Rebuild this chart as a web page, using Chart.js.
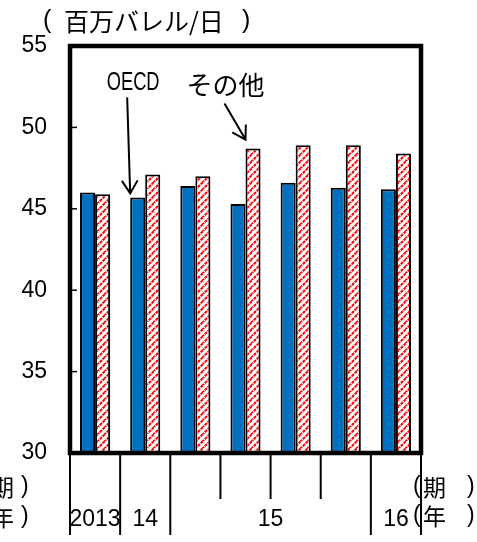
<!DOCTYPE html>
<html>
<head>
<meta charset="utf-8">
<script src="https://cdn.jsdelivr.net/npm/chart.js@4/dist/chart.umd.min.js"></script>
<style>
  html, body { margin: 0; padding: 0; background: #fff; }
</style>
</head>
<body>
<canvas id="myChart" width="477" height="542"></canvas>
<script>
// periods on the x axis (one bar pair each)
var periods = ['2013', '2014', '2015Q1', '2015Q2', '2015Q3', '2015Q4', '2016'];
// million barrels per day
var oecd = [46.0, 45.7, 46.4, 45.3, 46.6, 46.3, 46.2];
var others = [45.9, 47.1, 47.0, 48.7, 48.9, 48.9, 48.4];
// year row under the axis: label and first/last period index it spans
var years = ['2013', '14', '15', '16'];
var yearFrom = [0, 1, 2, 6];
var yearTo = [0, 1, 5, 6];

var JP = '"Noto Sans CJK JP", sans-serif';
var NUM = '"Liberation Sans", Arial, sans-serif';

function hatch() {
  var c = document.createElement('canvas');
  c.width = 7; c.height = 7;
  var g = c.getContext('2d');
  g.fillStyle = '#fff';
  g.fillRect(0, 0, 7, 7);
  g.strokeStyle = '#ff0000';
  g.lineWidth = 2;
  g.setLineDash([3, 1]);
  [-7, 0, 7].forEach(function (o) {
    g.beginPath();
    g.moveTo(-1 + o, 8);
    g.lineTo(8 + o, -1);
    g.stroke();
  });
  return g.createPattern(c, 'repeat');
}

function arrow(ctx, x0, y0, x1, y1) {
  var a = Math.atan2(y1 - y0, x1 - x0), h = 15, s = 0.55;
  ctx.beginPath();
  ctx.moveTo(x0, y0);
  ctx.lineTo(x1, y1);
  ctx.moveTo(x1 - h * Math.cos(a - s), y1 - h * Math.sin(a - s));
  ctx.lineTo(x1, y1);
  ctx.lineTo(x1 - h * Math.cos(a + s), y1 - h * Math.sin(a + s));
  ctx.stroke();
}

// "(word)" drawn in pieces so the brackets keep their wide spacing
function bracketed(ctx, word, xOpen, xWord, xClose, y, size) {
  ctx.textAlign = 'left';
  ctx.font = size + 'px ' + NUM;
  ctx.fillText('(', xOpen, y);
  ctx.fillText(')', xClose, y);
  ctx.font = size + 'px ' + JP;
  ctx.fillText(word, xWord, y);
}

var decor = {
  id: 'decor',
  afterDatasetsDraw: function (chart) {
    var ctx = chart.ctx, a = chart.chartArea;
    var x = chart.scales.x, y = chart.scales.y;
    ctx.save();
    ctx.strokeStyle = '#000';
    ctx.fillStyle = '#000';

    // inner y ticks
    ctx.lineWidth = 1.5;
    y.ticks.forEach(function (t) {
      if (t.value <= y.min || t.value >= y.max) return;
      var py = y.getPixelForValue(t.value);
      ctx.beginPath();
      ctx.moveTo(a.left, py);
      ctx.lineTo(a.left + 7, py);
      ctx.stroke();
    });

    // frame
    ctx.lineWidth = 4.5;
    ctx.strokeRect(a.left, a.top, a.right - a.left, a.bottom - a.top);

    // category boundaries below the frame
    var half = (x.getPixelForValue(1) - x.getPixelForValue(0)) / 2;
    ctx.lineWidth = 2;
    for (var i = 0; i <= periods.length; i++) {
      var bx = i < periods.length ? x.getPixelForValue(i) - half : x.getPixelForValue(i - 1) + half;
      var isYear = yearFrom.indexOf(i) >= 0 || i === periods.length;
      ctx.beginPath();
      ctx.moveTo(bx, a.bottom);
      ctx.lineTo(bx, isYear ? 535 : 499);
      ctx.stroke();
    }

    ctx.textBaseline = 'middle';
    ctx.textAlign = 'center';
    ctx.font = '23px ' + NUM;
    years.forEach(function (lbl, k) {
      var cx = (x.getPixelForValue(yearFrom[k]) + x.getPixelForValue(yearTo[k])) / 2;
      ctx.fillText(lbl, cx, 520);
    });

    bracketed(ctx, '期', 413, 423, 467, 487, 23);
    bracketed(ctx, '年', 413, 423, 467, 516, 23);
    bracketed(ctx, '期', -20, -9, 21, 487, 23);
    bracketed(ctx, '年', -20, -9, 21, 517, 23);

    bracketed(ctx, '百万バレル/日', 43, 64, 242, 21, 25);

    // labels with arrows
    ctx.lineWidth = 2;
    var b1 = chart.getDatasetMeta(0).data[1];
    var t1x = b1.x - b1.width / 2, t1y = b1.y - 4;
    arrow(ctx, t1x - 3, t1y - 96, t1x, t1y);
    ctx.save();
    ctx.translate(t1x + 3, t1y - 110);
    ctx.scale(0.73, 1);
    ctx.textAlign = 'center';
    ctx.font = '25px ' + NUM;
    ctx.fillText('OECD', 0, 0);
    ctx.restore();

    var b2 = chart.getDatasetMeta(1).data[3];
    var t2x = b2.x - b2.width / 2, t2y = b2.y - 9;
    arrow(ctx, t2x - 21, t2y - 36, t2x, t2y);
    ctx.textAlign = 'center';
    ctx.font = '26px ' + JP;
    ctx.fillText('その他', t2x - 20, t2y - 54);

    ctx.restore();
  }
};

var ctx = document.getElementById('myChart').getContext('2d');
// eslint-disable-next-line no-unused-vars
var myChart = new Chart(ctx, {
  type: 'bar',
  data: {
    labels: periods,
    datasets: [{
      label: 'OECD',
      data: oecd,
      backgroundColor: '#0070c0',
      borderColor: '#000',
      borderWidth: 2,
      categoryPercentage: 0.6,
      barPercentage: 1.0
    }, {
      label: 'その他',
      data: others,
      backgroundColor: hatch(),
      borderColor: '#000',
      borderWidth: 2,
      categoryPercentage: 0.6,
      barPercentage: 1.0
    }]
  },
  options: {
    responsive: false,
    animation: false,
    devicePixelRatio: 1,
    layout: { padding: { left: 0, top: 46, right: 56, bottom: 89 } },
    plugins: {
      legend: { display: false },
      tooltip: { enabled: false }
    },
    scales: {
      x: { display: false },
      y: {
        min: 30,
        max: 55,
        ticks: { stepSize: 5, color: '#000', padding: 23, font: { family: NUM, size: 23 } },
        grid: { display: false, drawTicks: false },
        border: { display: false },
        afterFit: function (scale) { scale.width = 70; }
      }
    }
  },
  plugins: [decor]
});
</script>
</body>
</html>
